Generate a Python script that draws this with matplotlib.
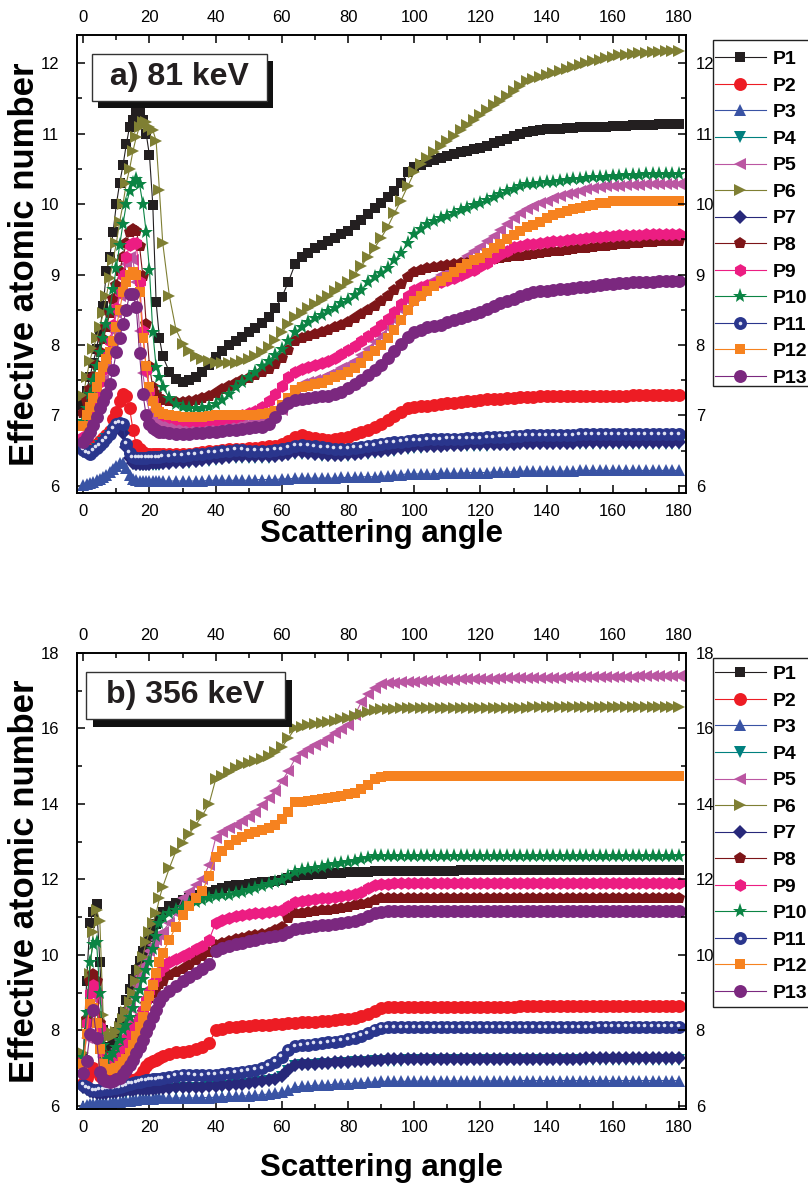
import matplotlib
matplotlib.use('Agg')
import matplotlib.pyplot as plt
from matplotlib.ticker import MultipleLocator
from matplotlib.patches import Rectangle
from matplotlib.legend_handler import HandlerTuple
import matplotlib.transforms as mtransforms

plt.rcParams['font.family'] = ['Liberation Sans', 'DejaVu Sans']

# ---------------- data ----------------
angle = list(range(0, 25)) + list(range(26, 181, 2))
labels = ['P1', 'P2', 'P3', 'P4', 'P5', 'P6', 'P7', 'P8', 'P9', 'P10', 'P11', 'P12', 'P13']

# panel a) 81 keV
P1a = [7.15, 7.35, 7.55, 7.75, 7.95, 8.2, 8.55, 9.05, 9.25, 9.6, 10.0, 10.3, 10.55, 10.85, 11.1, 11.2, 11.3, 11.3, 11.2, 11.0, 10.69, 9.99, 8.61, 8.1, 7.84,
       7.62, 7.52, 7.48, 7.5, 7.55, 7.62, 7.72, 7.83, 7.92, 8.0,
       8.06, 8.12, 8.18, 8.24, 8.31, 8.4, 8.52, 8.68, 8.9, 9.15,
       9.25, 9.31, 9.37, 9.42, 9.47, 9.52, 9.57, 9.62, 9.7, 9.78,
       9.86, 9.94, 10.02, 10.1, 10.18, 10.3, 10.45, 10.52, 10.56, 10.6,
       10.63, 10.66, 10.68, 10.71, 10.74, 10.76, 10.78, 10.8, 10.83, 10.87,
       10.9, 10.93, 10.96, 11.0, 11.03, 11.04, 11.05, 11.06, 11.06, 11.07,
       11.08, 11.08, 11.09, 11.09, 11.1, 11.1, 11.1, 11.11, 11.11, 11.11,
       11.12, 11.12, 11.12, 11.12, 11.13, 11.13, 11.13, 11.13]
P2a = [6.55, 6.5, 6.52, 6.56, 6.6, 6.64, 6.68, 6.72, 6.78, 6.95, 7.05, 7.2, 7.3, 7.28, 7.1, 6.8, 6.58, 6.52, 6.48, 6.46, 6.45, 6.45, 6.45, 6.45, 6.45,
       6.45, 6.45, 6.46, 6.46, 6.47, 6.48, 6.49, 6.5, 6.51, 6.52,
       6.53, 6.53, 6.54, 6.54, 6.55, 6.56, 6.57, 6.6, 6.64, 6.7,
       6.72, 6.7, 6.68, 6.66, 6.65, 6.66, 6.68, 6.7, 6.73, 6.76,
       6.8, 6.84, 6.88, 6.93, 6.99, 7.05, 7.1, 7.12, 7.13, 7.14,
       7.15, 7.16, 7.17, 7.18, 7.19, 7.2, 7.21, 7.22, 7.23, 7.24,
       7.24, 7.25, 7.25, 7.26, 7.26, 7.26, 7.27, 7.27, 7.27, 7.27,
       7.27, 7.28, 7.28, 7.28, 7.28, 7.28, 7.28, 7.28, 7.28, 7.28,
       7.29, 7.29, 7.29, 7.29, 7.29, 7.29, 7.29, 7.29]
P3a = [6.02, 6.03, 6.04, 6.06, 6.08, 6.1, 6.13, 6.16, 6.2, 6.24, 6.28, 6.32, 6.33, 6.25, 6.15, 6.1, 6.08, 6.07, 6.07, 6.07, 6.07, 6.07, 6.07, 6.07, 6.07,
       6.07, 6.07, 6.07, 6.07, 6.07, 6.07, 6.08, 6.08, 6.08, 6.08,
       6.08, 6.08, 6.08, 6.09, 6.09, 6.09, 6.09, 6.1, 6.1, 6.11,
       6.11, 6.11, 6.11, 6.11, 6.11, 6.11, 6.12, 6.12, 6.12, 6.13,
       6.13, 6.13, 6.14, 6.14, 6.15, 6.16, 6.17, 6.17, 6.17, 6.17,
       6.17, 6.18, 6.18, 6.18, 6.18, 6.19, 6.19, 6.19, 6.19, 6.2,
       6.2, 6.2, 6.2, 6.21, 6.21, 6.21, 6.21, 6.21, 6.21, 6.21,
       6.21, 6.21, 6.22, 6.22, 6.22, 6.22, 6.22, 6.22, 6.22, 6.22,
       6.22, 6.22, 6.22, 6.22, 6.22, 6.22, 6.22, 6.22]
P4a = [6.48, 6.47, 6.47, 6.49, 6.52, 6.56, 6.61, 6.66, 6.71, 6.76, 6.8, 6.82, 6.74, 6.53, 6.38, 6.31, 6.29, 6.29, 6.29, 6.29, 6.29, 6.3, 6.3, 6.3, 6.31,
       6.31, 6.32, 6.32, 6.33, 6.34, 6.35, 6.36, 6.37, 6.38, 6.39,
       6.4, 6.4, 6.4, 6.4, 6.4, 6.4, 6.41, 6.42, 6.44, 6.46,
       6.46, 6.45, 6.44, 6.43, 6.42, 6.42, 6.42, 6.43, 6.44, 6.45,
       6.46, 6.47, 6.48, 6.49, 6.5, 6.52, 6.53, 6.54, 6.54, 6.55,
       6.55, 6.55, 6.56, 6.56, 6.56, 6.57, 6.57, 6.57, 6.57, 6.58,
       6.58, 6.58, 6.58, 6.59, 6.59, 6.59, 6.59, 6.59, 6.59, 6.59,
       6.59, 6.59, 6.6, 6.6, 6.6, 6.6, 6.6, 6.6, 6.6, 6.6,
       6.6, 6.6, 6.6, 6.6, 6.6, 6.6, 6.6, 6.6]
P5a = [6.65, 6.75, 6.87, 7.0, 7.15, 7.3, 7.5, 7.7, 7.95, 8.2, 8.45, 8.7, 8.95, 9.15, 9.25, 9.2, 8.9, 8.2, 7.6, 7.25, 7.05, 6.95, 6.9, 6.87, 6.86,
       6.86, 6.84, 6.83, 6.82, 6.82, 6.82, 6.83, 6.84, 6.85, 6.86,
       6.87, 6.88, 6.89, 6.9, 6.92, 6.95, 7.0, 7.08, 7.2, 7.38,
       7.45, 7.48, 7.5, 7.53, 7.57, 7.62, 7.67, 7.72, 7.78, 7.86,
       7.95, 8.04, 8.13, 8.24, 8.36, 8.5, 8.62, 8.7, 8.77, 8.85,
       8.92, 8.99, 9.05, 9.12, 9.19, 9.26, 9.33, 9.39, 9.47, 9.55,
       9.63, 9.72, 9.8, 9.87, 9.93, 9.97, 10.01, 10.05, 10.08, 10.11,
       10.14, 10.16, 10.19, 10.21, 10.23, 10.24, 10.25, 10.26, 10.26, 10.27,
       10.27, 10.27, 10.28, 10.28, 10.28, 10.28, 10.28, 10.28]
P6a = [7.28, 7.55, 7.78, 7.95, 8.1, 8.25, 8.45, 8.7, 8.95, 9.2, 9.45, 9.75, 10.0, 10.3, 10.5, 10.75, 10.95, 11.1, 11.17, 11.17, 11.1, 11.05, 10.9, 10.2, 9.45,
       8.7, 8.22, 8.02, 7.92, 7.85, 7.8, 7.77, 7.75, 7.74, 7.74,
       7.75, 7.77, 7.8, 7.85, 7.9, 7.97, 8.07, 8.18, 8.3, 8.4,
       8.46, 8.52, 8.58, 8.64, 8.7, 8.76, 8.82, 8.9, 9.0, 9.12,
       9.25, 9.38, 9.52, 9.68, 9.87, 10.05, 10.25, 10.45, 10.57, 10.66,
       10.74, 10.82, 10.89, 10.97, 11.05, 11.12, 11.2, 11.27, 11.34, 11.41,
       11.47, 11.54, 11.6, 11.67, 11.74, 11.77, 11.8, 11.83, 11.86, 11.89,
       11.92, 11.95, 11.98, 12.0, 12.03, 12.05, 12.07, 12.09, 12.11, 12.12,
       12.13, 12.14, 12.15, 12.16, 12.16, 12.17, 12.17, 12.17]
P7a = [6.5, 6.48, 6.48, 6.5, 6.54, 6.58, 6.63, 6.68, 6.73, 6.78, 6.82, 6.83, 6.75, 6.55, 6.4, 6.33, 6.31, 6.31, 6.31, 6.31, 6.31, 6.32, 6.32, 6.32, 6.33,
       6.33, 6.34, 6.34, 6.35, 6.36, 6.37, 6.38, 6.39, 6.4, 6.41,
       6.42, 6.42, 6.42, 6.42, 6.42, 6.42, 6.43, 6.44, 6.46, 6.48,
       6.48, 6.47, 6.46, 6.45, 6.44, 6.44, 6.44, 6.45, 6.46, 6.47,
       6.48, 6.49, 6.5, 6.51, 6.52, 6.54, 6.55, 6.56, 6.56, 6.57,
       6.57, 6.57, 6.58, 6.58, 6.58, 6.59, 6.59, 6.59, 6.59, 6.6,
       6.6, 6.6, 6.6, 6.61, 6.61, 6.61, 6.61, 6.61, 6.61, 6.61,
       6.61, 6.61, 6.62, 6.62, 6.62, 6.62, 6.62, 6.62, 6.62, 6.62,
       6.62, 6.62, 6.62, 6.62, 6.62, 6.62, 6.62, 6.62]
P8a = [7.03, 7.2, 7.38, 7.55, 7.72, 7.9, 8.08, 8.25, 8.45, 8.65, 8.85, 9.05, 9.25, 9.45, 9.6, 9.65, 9.62, 9.4, 8.98, 8.3, 7.7, 7.4, 7.3, 7.25, 7.22,
       7.2, 7.19, 7.19, 7.2, 7.22, 7.25, 7.28, 7.32, 7.37, 7.42,
       7.46, 7.5, 7.53, 7.57, 7.61, 7.66, 7.73, 7.82, 7.93, 8.05,
       8.1, 8.13, 8.16, 8.19, 8.22, 8.25, 8.28, 8.32, 8.38, 8.44,
       8.5, 8.56, 8.63, 8.7, 8.78, 8.87, 8.96, 9.03, 9.07, 9.09,
       9.11, 9.12, 9.13, 9.15, 9.16, 9.17, 9.18, 9.2, 9.21, 9.22,
       9.23, 9.25, 9.26, 9.27, 9.28, 9.29, 9.3, 9.32, 9.33, 9.34,
       9.35, 9.36, 9.37, 9.38, 9.39, 9.4, 9.41, 9.42, 9.43, 9.44,
       9.45, 9.45, 9.46, 9.46, 9.47, 9.47, 9.48, 9.48]
P9a = [6.7, 6.85, 7.0, 7.15, 7.3, 7.47, 7.65, 7.85, 8.05, 8.28, 8.52, 8.75, 9.0, 9.25, 9.42, 9.45, 9.45, 8.9, 8.2, 7.65, 7.35, 7.2, 7.1, 7.05, 7.0,
       6.98, 6.95, 6.93, 6.92, 6.92, 6.92, 6.93, 6.94, 6.95, 6.96,
       6.98, 7.0, 7.03, 7.07, 7.12, 7.2, 7.3, 7.42, 7.55, 7.62,
       7.66, 7.69, 7.72, 7.75, 7.78, 7.82, 7.87, 7.93, 7.99, 8.06,
       8.13, 8.2, 8.28, 8.37, 8.47, 8.58, 8.7, 8.78, 8.82, 8.85,
       8.87, 8.9, 8.92, 8.95, 8.99, 9.03, 9.07, 9.12, 9.17, 9.23,
       9.29, 9.34, 9.39, 9.41, 9.43, 9.44, 9.45, 9.46, 9.47, 9.48,
       9.49, 9.5, 9.51, 9.52, 9.53, 9.54, 9.55, 9.55, 9.56, 9.56,
       9.56, 9.56, 9.57, 9.57, 9.57, 9.57, 9.57, 9.57]
P10a = [6.92, 7.1, 7.3, 7.5, 7.7, 7.9, 8.1, 8.3, 8.5, 8.8, 9.1, 9.42, 9.72, 10.0, 10.18, 10.3, 10.35, 10.28, 10.0, 9.6, 9.06, 8.18, 7.69, 7.55, 7.4,
        7.25, 7.16, 7.12, 7.1, 7.1, 7.1, 7.12, 7.16, 7.22, 7.3,
        7.4, 7.47, 7.54, 7.62, 7.7, 7.78, 7.86, 7.95, 8.06, 8.18,
        8.26, 8.33, 8.38, 8.43, 8.48, 8.53, 8.59, 8.64, 8.71, 8.78,
        8.9, 8.96, 9.02, 9.1, 9.2, 9.3, 9.45, 9.58, 9.65, 9.72,
        9.76, 9.8, 9.83, 9.87, 9.91, 9.95, 9.98, 10.02, 10.06, 10.1,
        10.14, 10.18, 10.22, 10.26, 10.28, 10.29, 10.3, 10.31, 10.32, 10.33,
        10.34, 10.35, 10.36, 10.37, 10.38, 10.39, 10.39, 10.4, 10.4, 10.41,
        10.41, 10.41, 10.42, 10.42, 10.42, 10.42, 10.42, 10.42]
P11a = [6.51, 6.48, 6.46, 6.5, 6.54, 6.58, 6.63, 6.68, 6.74, 6.82, 6.88, 6.9, 6.88, 6.6, 6.47, 6.41, 6.4, 6.4, 6.4, 6.4, 6.41, 6.41, 6.41, 6.41, 6.42,
        6.42, 6.43, 6.43, 6.44, 6.45, 6.46, 6.47, 6.48, 6.49, 6.5,
        6.51, 6.51, 6.5, 6.5, 6.5, 6.5, 6.51, 6.52, 6.54, 6.57,
        6.58, 6.57, 6.56, 6.55, 6.54, 6.53, 6.53, 6.53, 6.54, 6.55,
        6.57, 6.58, 6.6, 6.61, 6.62, 6.63, 6.64, 6.65, 6.65, 6.66,
        6.66, 6.66, 6.67, 6.67, 6.67, 6.68, 6.68, 6.68, 6.69, 6.69,
        6.7, 6.7, 6.71, 6.71, 6.72, 6.72, 6.72, 6.72, 6.72, 6.72,
        6.72, 6.72, 6.73, 6.73, 6.73, 6.73, 6.73, 6.73, 6.73, 6.73,
        6.73, 6.73, 6.73, 6.73, 6.73, 6.73, 6.73, 6.73]
P12a = [6.85, 7.0, 7.12, 7.25, 7.4, 7.55, 7.69, 7.8, 7.9, 8.05, 8.25, 8.5, 8.75, 8.9, 9.0, 9.03, 9.0, 8.75, 8.1, 7.7, 7.4, 7.2, 7.1, 7.05, 7.02,
        7.0, 6.99, 6.98, 6.98, 6.98, 6.98, 6.99, 7.0, 7.0, 7.01,
        7.01, 7.01, 7.01, 7.01, 7.02, 7.03, 7.06, 7.15, 7.25, 7.36,
        7.4, 7.42, 7.44, 7.46, 7.5, 7.54, 7.58, 7.62, 7.68, 7.75,
        7.84, 7.92, 8.0, 8.1, 8.22, 8.36, 8.5, 8.63, 8.7, 8.77,
        8.84, 8.91, 8.97, 9.03, 9.09, 9.15, 9.2, 9.24, 9.3, 9.37,
        9.44, 9.5, 9.56, 9.62, 9.67, 9.71, 9.75, 9.8, 9.84, 9.87,
        9.9, 9.93, 9.95, 9.97, 9.99, 10.01, 10.02, 10.04, 10.05, 10.05,
        10.05, 10.05, 10.05, 10.05, 10.05, 10.05, 10.05, 10.05]
P13a = [6.63, 6.7, 6.77, 6.87, 6.98, 7.1, 7.2, 7.3, 7.45, 7.65, 7.9, 8.1, 8.3, 8.5, 8.72, 8.72, 8.54, 7.88, 7.31, 7.0, 6.88, 6.82, 6.79, 6.77, 6.76,
        6.75, 6.74, 6.74, 6.74, 6.75, 6.75, 6.76, 6.77, 6.78, 6.79,
        6.8, 6.81, 6.82, 6.83, 6.84, 6.88, 6.98, 7.1, 7.18, 7.22,
        7.24, 7.25, 7.26, 7.27, 7.28, 7.3, 7.34, 7.39, 7.44, 7.5,
        7.57, 7.64, 7.72, 7.82, 7.92, 8.02, 8.12, 8.18, 8.22, 8.25,
        8.27, 8.29, 8.32, 8.35, 8.38, 8.41, 8.44, 8.47, 8.51, 8.55,
        8.59, 8.63, 8.66, 8.7, 8.73, 8.75, 8.76, 8.77, 8.78, 8.79,
        8.8, 8.81, 8.82, 8.83, 8.84, 8.85, 8.86, 8.87, 8.88, 8.88,
        8.89, 8.89, 8.9, 8.9, 8.91, 8.91, 8.91, 8.91]

# panel b) 356 keV
P1b = [7.3, 9.3, 10.85, 11.15, 11.35, 9.8, 8.0, 7.4, 7.55, 7.75, 7.95, 8.2, 8.5, 8.8, 9.1, 9.35, 9.6, 9.85, 10.1, 10.3, 10.48, 10.65, 10.82, 11.0, 11.15,
       11.3, 11.38, 11.45, 11.52, 11.58, 11.63, 11.68, 11.73, 11.78, 11.82,
       11.84, 11.86, 11.88, 11.9, 11.92, 11.94, 11.96, 11.98, 12.04, 12.1,
       12.12, 12.13, 12.14, 12.15, 12.16, 12.17, 12.18, 12.19, 12.2, 12.21,
       12.21, 12.22, 12.22, 12.22, 12.23, 12.23, 12.23, 12.23, 12.23, 12.23,
       12.23, 12.23, 12.23, 12.23, 12.24, 12.24, 12.24, 12.24, 12.24, 12.24,
       12.24, 12.24, 12.24, 12.24, 12.24, 12.24, 12.24, 12.24, 12.24, 12.24,
       12.24, 12.24, 12.24, 12.25, 12.25, 12.25, 12.25, 12.25, 12.25, 12.25,
       12.25, 12.25, 12.25, 12.25, 12.25, 12.25, 12.25, 12.25]
P2b = [6.6, 6.75, 6.9, 7.0, 6.95, 6.8, 6.7, 6.68, 6.68, 6.68, 6.68, 6.68, 6.68, 6.68, 6.68, 6.69, 6.72, 6.78, 6.92, 7.05, 7.13, 7.18, 7.22, 7.27, 7.32,
       7.38, 7.42, 7.44, 7.46, 7.5, 7.56, 7.66, 8.0, 8.05, 8.08,
       8.1, 8.11, 8.12, 8.13, 8.14, 8.15, 8.16, 8.17, 8.19, 8.2,
       8.21, 8.22, 8.23, 8.24, 8.25, 8.27, 8.29, 8.31, 8.34, 8.38,
       8.44, 8.52, 8.6, 8.62, 8.63, 8.63, 8.63, 8.63, 8.63, 8.63,
       8.63, 8.63, 8.63, 8.63, 8.63, 8.63, 8.63, 8.63, 8.63, 8.63,
       8.63, 8.63, 8.63, 8.64, 8.64, 8.64, 8.64, 8.64, 8.64, 8.64,
       8.64, 8.64, 8.64, 8.64, 8.64, 8.64, 8.64, 8.64, 8.64, 8.64,
       8.64, 8.64, 8.64, 8.64, 8.64, 8.64, 8.64, 8.64]
P3b = [6.0, 6.02, 6.04, 6.06, 6.07, 6.07, 6.07, 6.08, 6.08, 6.09, 6.1, 6.11, 6.12, 6.13, 6.14, 6.15, 6.16, 6.17, 6.18, 6.18, 6.19, 6.19, 6.2, 6.2, 6.2,
       6.2, 6.21, 6.21, 6.21, 6.21, 6.22, 6.22, 6.23, 6.24, 6.25,
       6.25, 6.26, 6.27, 6.28, 6.3, 6.31, 6.33, 6.36, 6.42, 6.5,
       6.52, 6.53, 6.54, 6.55, 6.56, 6.57, 6.58, 6.59, 6.6, 6.61,
       6.62, 6.64, 6.65, 6.65, 6.65, 6.65, 6.65, 6.65, 6.66, 6.66,
       6.66, 6.66, 6.66, 6.66, 6.66, 6.66, 6.66, 6.66, 6.66, 6.66,
       6.66, 6.66, 6.66, 6.67, 6.67, 6.67, 6.67, 6.67, 6.67, 6.67,
       6.67, 6.67, 6.67, 6.67, 6.67, 6.67, 6.67, 6.67, 6.67, 6.67,
       6.67, 6.67, 6.67, 6.67, 6.67, 6.67, 6.67, 6.67]
P4b = [6.47, 6.42, 6.37, 6.34, 6.32, 6.31, 6.31, 6.32, 6.33, 6.34, 6.35, 6.36, 6.37, 6.38, 6.39, 6.4, 6.41, 6.41, 6.42, 6.42, 6.43, 6.43, 6.44, 6.44, 6.44,
       6.45, 6.46, 6.47, 6.47, 6.47, 6.48, 6.49, 6.5, 6.51, 6.53,
       6.54, 6.56, 6.58, 6.6, 6.62, 6.65, 6.69, 6.77, 6.92, 7.05,
       7.07, 7.08, 7.09, 7.1, 7.11, 7.12, 7.13, 7.14, 7.15, 7.16,
       7.17, 7.18, 7.19, 7.2, 7.2, 7.2, 7.21, 7.21, 7.21, 7.21,
       7.21, 7.21, 7.21, 7.22, 7.22, 7.22, 7.22, 7.22, 7.22, 7.22,
       7.22, 7.22, 7.22, 7.22, 7.22, 7.22, 7.22, 7.22, 7.22, 7.22,
       7.22, 7.22, 7.22, 7.22, 7.22, 7.22, 7.22, 7.22, 7.22, 7.22,
       7.22, 7.22, 7.22, 7.22, 7.22, 7.22, 7.22, 7.22]
P5b = [7.2, 7.8, 8.5, 9.0, 8.8, 8.0, 7.3, 7.1, 7.15, 7.3, 7.5, 7.75, 8.0, 8.3, 8.6, 8.9, 9.2, 9.45, 9.7, 9.9, 10.1, 10.25, 10.4, 10.52, 10.62,
       10.85, 11.1, 11.5, 11.68, 11.84, 12.02, 12.38, 13.1, 13.25, 13.35,
       13.45, 13.55, 13.65, 13.8, 13.98, 14.15, 14.35, 14.6, 14.88, 15.2,
       15.35, 15.45, 15.55, 15.65, 15.76, 15.87, 15.98, 16.1, 16.35, 16.7,
       16.92, 17.08, 17.18, 17.2, 17.21, 17.22, 17.23, 17.24, 17.25, 17.26,
       17.27, 17.28, 17.28, 17.29, 17.3, 17.3, 17.31, 17.31, 17.32, 17.32,
       17.33, 17.33, 17.33, 17.34, 17.34, 17.34, 17.35, 17.35, 17.35, 17.35,
       17.36, 17.36, 17.36, 17.36, 17.36, 17.37, 17.37, 17.37, 17.37, 17.37,
       17.37, 17.38, 17.38, 17.38, 17.38, 17.38, 17.38, 17.38]
P6b = [7.4, 8.2, 9.5, 10.6, 11.2, 10.9, 8.4, 8.0, 7.85, 7.85, 7.95, 8.1, 8.3, 8.5, 8.75, 9.0, 9.3, 9.6, 9.95, 10.35, 10.6, 10.85, 11.1, 11.5, 11.8,
       12.3, 12.75, 12.97, 13.2, 13.45, 13.7, 14.0, 14.65, 14.75, 14.85,
       14.95, 15.02, 15.08, 15.14, 15.2, 15.28, 15.38, 15.5, 15.75, 16.0,
       16.05, 16.08, 16.11, 16.14, 16.17, 16.2, 16.24, 16.29, 16.33, 16.38,
       16.43, 16.48, 16.51, 16.52, 16.52, 16.53, 16.53, 16.53, 16.54, 16.54,
       16.54, 16.54, 16.55, 16.55, 16.55, 16.55, 16.55, 16.55, 16.55, 16.55,
       16.55, 16.55, 16.55, 16.55, 16.55, 16.56, 16.56, 16.56, 16.56, 16.56,
       16.56, 16.56, 16.56, 16.56, 16.56, 16.57, 16.57, 16.57, 16.57, 16.57,
       16.57, 16.57, 16.57, 16.58, 16.58, 16.58, 16.58, 16.58]
P7b = [6.5, 6.45, 6.4, 6.37, 6.35, 6.34, 6.34, 6.35, 6.36, 6.37, 6.38, 6.39, 6.4, 6.41, 6.42, 6.43, 6.44, 6.44, 6.45, 6.45, 6.46, 6.46, 6.47, 6.47, 6.47,
       6.48, 6.49, 6.5, 6.5, 6.5, 6.51, 6.52, 6.53, 6.54, 6.56,
       6.57, 6.59, 6.61, 6.63, 6.65, 6.68, 6.72, 6.8, 6.95, 7.08,
       7.1, 7.11, 7.12, 7.13, 7.14, 7.15, 7.16, 7.17, 7.18, 7.19,
       7.2, 7.21, 7.22, 7.23, 7.23, 7.23, 7.24, 7.24, 7.24, 7.24,
       7.24, 7.24, 7.24, 7.25, 7.25, 7.25, 7.25, 7.25, 7.25, 7.25,
       7.25, 7.25, 7.25, 7.25, 7.25, 7.25, 7.25, 7.25, 7.25, 7.25,
       7.25, 7.25, 7.25, 7.26, 7.26, 7.26, 7.26, 7.26, 7.26, 7.26,
       7.26, 7.26, 7.26, 7.26, 7.26, 7.26, 7.26, 7.26]
P8b = [7.2, 8.3, 9.3, 9.5, 9.3, 8.2, 7.4, 7.15, 7.1, 7.15, 7.25, 7.4, 7.55, 7.7, 7.85, 8.0, 8.15, 8.3, 8.5, 8.7, 8.85, 9.0, 9.12, 9.22, 9.32,
       9.46, 9.55, 9.63, 9.72, 9.86, 9.98, 10.08, 10.25, 10.32, 10.38,
       10.43, 10.46, 10.49, 10.52, 10.55, 10.59, 10.65, 10.75, 10.98, 11.1,
       11.12, 11.14, 11.16, 11.18, 11.2, 11.22, 11.25, 11.28, 11.31, 11.34,
       11.38, 11.45, 11.5, 11.51, 11.51, 11.51, 11.52, 11.52, 11.52, 11.52,
       11.52, 11.52, 11.52, 11.52, 11.52, 11.52, 11.52, 11.52, 11.52, 11.52,
       11.52, 11.52, 11.52, 11.52, 11.52, 11.52, 11.52, 11.52, 11.52, 11.52,
       11.52, 11.52, 11.52, 11.52, 11.52, 11.52, 11.52, 11.52, 11.52, 11.52,
       11.52, 11.52, 11.52, 11.52, 11.52, 11.52, 11.52, 11.52]
P9b = [7.2, 8.2, 9.0, 9.2, 9.0, 8.1, 7.3, 7.1, 7.1, 7.2, 7.35, 7.5, 7.65, 7.8, 7.95, 8.1, 8.2, 8.35, 8.55, 8.8, 9.05, 9.25, 9.42, 9.56, 9.68,
       9.82, 9.9, 9.98, 10.06, 10.15, 10.24, 10.4, 10.85, 10.92, 10.98,
       11.04, 11.06, 11.08, 11.1, 11.12, 11.14, 11.16, 11.2, 11.3, 11.4,
       11.44, 11.46, 11.48, 11.5, 11.52, 11.54, 11.56, 11.58, 11.62, 11.68,
       11.76, 11.84, 11.88, 11.89, 11.9, 11.9, 11.9, 11.9, 11.9, 11.9,
       11.9, 11.9, 11.9, 11.9, 11.9, 11.9, 11.9, 11.9, 11.9, 11.9,
       11.9, 11.9, 11.9, 11.9, 11.9, 11.9, 11.9, 11.9, 11.9, 11.9,
       11.9, 11.9, 11.9, 11.9, 11.9, 11.9, 11.9, 11.9, 11.9, 11.9,
       11.9, 11.9, 11.9, 11.9, 11.9, 11.9, 11.9, 11.9]
P10b = [7.3, 8.5, 9.8, 10.3, 10.35, 9.0, 7.6, 7.25, 7.3, 7.4, 7.55, 7.75, 8.0, 8.15, 8.35, 8.6, 8.85, 9.08, 9.35, 9.6, 9.8, 10.15, 10.5, 10.85, 11.0,
        11.1, 11.2, 11.28, 11.35, 11.4, 11.45, 11.5, 11.55, 11.58, 11.6,
        11.63, 11.67, 11.72, 11.77, 11.82, 11.87, 11.92, 11.98, 12.1, 12.2,
        12.25, 12.28, 12.31, 12.34, 12.37, 12.4, 12.43, 12.46, 12.5, 12.54,
        12.58, 12.61, 12.62, 12.62, 12.62, 12.62, 12.62, 12.62, 12.62, 12.62,
        12.62, 12.62, 12.62, 12.62, 12.62, 12.62, 12.62, 12.62, 12.62, 12.62,
        12.62, 12.62, 12.62, 12.62, 12.62, 12.62, 12.62, 12.62, 12.62, 12.62,
        12.62, 12.62, 12.62, 12.62, 12.62, 12.62, 12.62, 12.62, 12.62, 12.62,
        12.62, 12.62, 12.62, 12.62, 12.62, 12.62, 12.62, 12.62]
P11b = [6.56, 6.5, 6.45, 6.42, 6.42, 6.43, 6.44, 6.45, 6.46, 6.47, 6.48, 6.5, 6.52, 6.55, 6.58, 6.6, 6.62, 6.64, 6.66, 6.68, 6.69, 6.7, 6.71, 6.72, 6.73,
        6.76, 6.8, 6.82, 6.82, 6.81, 6.81, 6.82, 6.83, 6.85, 6.87,
        6.88, 6.9, 6.93, 6.96, 7.0, 7.08, 7.17, 7.3, 7.47, 7.58,
        7.6, 7.62, 7.64, 7.66, 7.68, 7.7, 7.73, 7.77, 7.81, 7.86,
        7.93, 8.02, 8.07, 8.08, 8.08, 8.08, 8.08, 8.08, 8.08, 8.08,
        8.08, 8.08, 8.08, 8.08, 8.08, 8.08, 8.08, 8.08, 8.08, 8.08,
        8.08, 8.08, 8.08, 8.08, 8.08, 8.08, 8.08, 8.08, 8.08, 8.08,
        8.08, 8.08, 8.08, 8.08, 8.08, 8.09, 8.09, 8.09, 8.09, 8.09,
        8.09, 8.09, 8.09, 8.09, 8.09, 8.09, 8.09, 8.09]
P12b = [7.1, 7.9, 8.7, 8.6, 8.2, 7.5, 7.1, 6.98, 6.95, 6.97, 7.0, 7.05, 7.15, 7.25, 7.4, 7.6, 7.85, 8.1, 8.35, 8.64, 8.9, 9.2, 9.52, 9.8, 10.05,
        10.4, 10.75, 11.05, 11.3, 11.5, 11.7, 12.1, 12.6, 12.75, 12.9,
        13.05, 13.12, 13.2, 13.25, 13.3, 13.35, 13.45, 13.6, 13.8, 14.04,
        14.06, 14.08, 14.1, 14.12, 14.15, 14.18, 14.21, 14.26, 14.3, 14.4,
        14.5, 14.65, 14.72, 14.73, 14.74, 14.74, 14.74, 14.74, 14.74, 14.74,
        14.74, 14.74, 14.74, 14.74, 14.74, 14.74, 14.74, 14.74, 14.74, 14.74,
        14.74, 14.74, 14.74, 14.74, 14.74, 14.74, 14.74, 14.74, 14.74, 14.74,
        14.74, 14.74, 14.74, 14.74, 14.74, 14.74, 14.74, 14.74, 14.74, 14.74,
        14.74, 14.74, 14.74, 14.74, 14.74, 14.74, 14.74, 14.74]
P13b = [6.87, 7.2, 7.9, 8.55, 7.8, 6.9, 6.7, 6.65, 6.64, 6.66, 6.7, 6.75, 6.85, 6.95, 7.08, 7.22, 7.4, 7.55, 7.75, 7.95, 8.15, 8.35, 8.55, 8.75, 8.92,
        9.05, 9.18, 9.32, 9.42, 9.52, 9.62, 9.75, 10.1, 10.18, 10.24,
        10.28, 10.32, 10.36, 10.4, 10.44, 10.47, 10.5, 10.54, 10.62, 10.7,
        10.72, 10.74, 10.76, 10.78, 10.8, 10.82, 10.84, 10.87, 10.9, 10.95,
        11.02, 11.1, 11.15, 11.16, 11.16, 11.16, 11.16, 11.16, 11.16, 11.16,
        11.16, 11.16, 11.16, 11.16, 11.16, 11.16, 11.16, 11.16, 11.16, 11.16,
        11.16, 11.16, 11.16, 11.16, 11.16, 11.16, 11.16, 11.16, 11.16, 11.16,
        11.16, 11.16, 11.16, 11.16, 11.16, 11.16, 11.16, 11.16, 11.16, 11.16,
        11.16, 11.16, 11.16, 11.16, 11.16, 11.16, 11.16, 11.16]

series_a = [P1a, P2a, P3a, P4a, P5a, P6a, P7a, P8a, P9a, P10a, P11a, P12a, P13a]
series_b = [P1b, P2b, P3b, P4b, P5b, P6b, P7b, P8b, P9b, P10b, P11b, P12b, P13b]
for nm, s in zip(labels * 2, series_a + series_b):
    if len(s) != len(angle):
        raise ValueError(f'{nm}: {len(s)} values, expected {len(angle)}')

# ---------------- styles ----------------
colors = ['#231f20', '#ed1c24', '#3953a4', '#00807f', '#bb56a2', '#7f7f33',
          '#27287a', '#7d1518', '#ec1d82', '#0b8444', '#2a368d', '#f6821f', '#7b287f']
markers = ['s', 'o', '^', 'v', '<', '>', 'D', 'p', 'h', '*', 'o', 's', 'o']
msizes = [7.6, 9.3, 9.2, 9.2, 9.2, 9.2, 7.2, 9.2, 9.2, 11.0, 9.3, 7.6, 9.3]

W, H = 808, 1186
fig = plt.figure(figsize=(W / 100, H / 100), dpi=100)
axA = fig.add_axes([0.0957, 0.5841, 0.7533, 0.3864])
axB = fig.add_axes([0.0957, 0.0647, 0.7533, 0.3847])


def draw(ax, series, ylim, ymaj, ymin, title, box, shadow, frame_px, first_row_px, xlab_y):
    handles = []
    hl_trans = mtransforms.offset_copy(ax.transData, fig=fig, x=-1.5, y=1.5, units='dots')
    for i, s in enumerate(series):
        ln, = ax.plot(angle, s, color=colors[i], marker=markers[i], ms=msizes[i],
                      mew=0, lw=0.8, label=labels[i])
        if labels[i] == 'P11':
            hl, = ax.plot(angle, s, ls='none', marker='o', ms=2.6, mew=0,
                          color='#dfe2f2', transform=hl_trans)
            handles.append((ln, hl))
        else:
            handles.append(ln)
    ax.set_xlim(-1.8, 182.1)
    ax.set_ylim(*ylim)
    ax.xaxis.set_major_locator(MultipleLocator(20))
    ax.xaxis.set_minor_locator(MultipleLocator(10))
    ax.yaxis.set_major_locator(MultipleLocator(ymaj))
    ax.yaxis.set_minor_locator(MultipleLocator(ymin))
    ax.tick_params(which='both', direction='in', top=True, right=False,
                   labeltop=True, labelright=False, labelsize=12, width=1.1)
    ax.tick_params(axis='x', which='both', pad=7.5)
    ax.tick_params(axis='y', which='both', pad=13)
    ax.tick_params(which='major', length=6)
    ax.tick_params(which='minor', length=3.5)
    for sp in ax.spines.values():
        sp.set_linewidth(1.2)

    # right-hand axis with its own labels
    axr = ax.twinx()
    axr.set_ylim(*ylim)
    axr.yaxis.set_major_locator(MultipleLocator(ymaj))
    axr.yaxis.set_minor_locator(MultipleLocator(ymin))
    axr.tick_params(which='both', direction='in', labelsize=12, width=1.1, pad=7)
    axr.tick_params(which='major', length=6)
    axr.tick_params(which='minor', length=3.5)
    for sp in axr.spines.values():
        sp.set_linewidth(1.2)

    ax.set_xlabel('Scattering angle', fontsize=22.5, fontweight='bold', va='center')
    ax.xaxis.set_label_coords(0.5, xlab_y)
    ax.set_ylabel('Effective atomic number', fontsize=25, fontweight='bold', labelpad=0)

    x0, y0, x1, y1 = box
    dx, dy = shadow
    ax.add_patch(Rectangle((x0 + dx, y0 - dy), x1 - x0, y1 - y0, transform=ax.transAxes,
                           facecolor='#111111', edgecolor='none', zorder=20))
    ax.add_patch(Rectangle((x0, y0), x1 - x0, y1 - y0, transform=ax.transAxes,
                           facecolor='white', edgecolor='#333333', lw=1.0, zorder=21))
    ax.text((x0 + x1) / 2, (y0 + y1) / 2, title, transform=ax.transAxes, ha='center',
            va='center', fontsize=23, fontweight='bold', color='#231f20', zorder=22)

    # legend frame (extends past the right edge of the figure, as in the source)
    fl, ft, fr, fb = frame_px
    fig.add_artist(Rectangle((fl / W, 1 - fb / H), (fr - fl) / W, (fb - ft) / H,
                             transform=fig.transFigure, facecolor='white',
                             edgecolor='#222222', lw=1.0, zorder=10))
    leg = fig.legend(handles, labels, loc='upper left',
                     bbox_to_anchor=((fl + 2) / W, 1 - first_row_px / H),
                     bbox_transform=fig.transFigure, frameon=False, borderaxespad=0,
                     borderpad=0, prop={'weight': 'bold', 'size': 14}, handlelength=2.6,
                     handletextpad=0.35, labelspacing=0.46, markerscale=1.0,
                     handler_map={tuple: HandlerTuple(ndivide=1)})
    leg.set_zorder(11)


draw(axA, series_a, (5.896, 12.40), 1, 0.5, 'a) 81 keV',
     (0.0241, 0.856, 0.3117, 0.9585), (0.0104, 0.0159), (713, 40, 830, 386), 50.5, -0.088)
draw(axB, series_b, (5.91, 18.0), 2, 1, 'b) 356 keV',
     (0.0143, 0.8554, 0.3412, 0.9584), (0.0115, 0.0175), (713, 658, 830, 1007), 665.5, -0.1286)

fig.savefig('out.png', dpi=100)
